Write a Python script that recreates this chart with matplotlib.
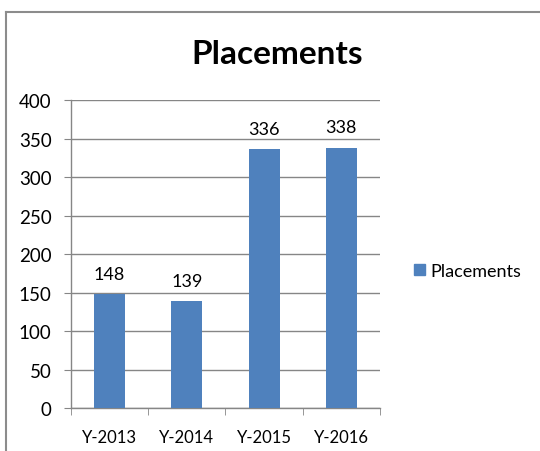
import matplotlib.pyplot as plt
from matplotlib.lines import Line2D
from matplotlib.patches import Patch

# Data
years = ['Y-2013', 'Y-2014', 'Y-2015', 'Y-2016']
placements = [148, 139, 336, 338]
y_ticks = [0, 50, 100, 150, 200, 250, 300, 350, 400]

bar_color = '#4F81BD'
grid_color = '#868686'

plt.rcParams['font.family'] = ['Lato', 'DejaVu Sans']

fig = plt.figure(figsize=(5.4, 4.52), dpi=100)
ax = fig.add_axes([0.1315, 0.0951, 0.572, 0.6814])

x = range(len(years))
ax.bar(x, placements, width=0.4, color=bar_color, zorder=3)
for xi, v in zip(x, placements):
    ax.text(xi, v + 20, str(v), ha='center', va='baseline', fontsize=13)

ax.set_xlim(-0.5, len(years) - 0.5)
ax.set_ylim(0, 400)
ax.set_yticks(y_ticks)
ax.set_yticklabels([str(t) for t in y_ticks], fontsize=13.5)
ax.set_xticks(list(x))
ax.set_xticklabels(years, fontsize=12)
ax.tick_params(axis='x', length=0, pad=15)
ax.tick_params(axis='y', length=5, color=grid_color, pad=9)
# category boundary ticks on x axis
ax.set_xticks([i - 0.5 for i in range(len(years) + 1)], minor=True)
ax.tick_params(axis='x', which='minor', length=5, color=grid_color)

ax.grid(axis='y', color=grid_color, linewidth=1, zorder=0)
for s in ['top', 'right']:
    ax.spines[s].set_visible(False)
for s in ['left', 'bottom']:
    ax.spines[s].set_color(grid_color)
    ax.spines[s].set_linewidth(1)

fig.text(0.513, 0.88, 'Placements', ha='center', va='center',
         fontsize=24, fontweight='bold')

ax.legend(handles=[Patch(color=bar_color, label='Placements')],
          loc='center left', bbox_to_anchor=(1.057, 0.445), frameon=False,
          fontsize=13, handlelength=0.6, handleheight=0.6, handletextpad=0.3)

# outer chart frame (left and top edges)
fig.add_artist(Line2D([0.011, 0.011], [0.0, 0.971], color='#8c8c8c', lw=1.5,
                      transform=fig.transFigure))
fig.add_artist(Line2D([0.011, 1.0], [0.971, 0.971], color='#8c8c8c', lw=1.5,
                      transform=fig.transFigure))

fig.savefig('out.png', dpi=100)
